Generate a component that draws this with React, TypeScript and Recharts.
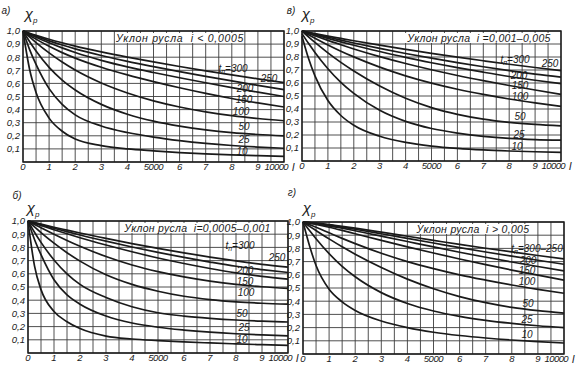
import React from 'react';
import { LineChart, Line, XAxis, YAxis, CartesianGrid, ReferenceArea } from 'recharts';

// ---- shared axes ----
const X_VALUES = [0, 250, 500, 1000, 1500, 2000, 3000, 4000, 5000, 6000, 7000, 8000, 9000, 10000];
const T_LEVELS = [300, 250, 200, 150, 100, 50, 25, 10];
const X_TICKS = [0, 500, 1000, 1500, 2000, 2500, 3000, 3500, 4000, 4500, 5000, 5500, 6000, 6500, 7000, 7500, 8000, 8500, 9000, 9500, 10000];
const Y_TICKS = [0, 0.1, 0.2, 0.3, 0.4, 0.5, 0.6, 0.7, 0.8, 0.9, 1.0];

// ---- panel а) i < 0,0005 ----
const A_300 = [1.0, 0.983, 0.967, 0.937, 0.91, 0.885, 0.841, 0.801, 0.764, 0.729, 0.696, 0.665, 0.635, 0.606];
const A_250 = [1.0, 0.98, 0.961, 0.925, 0.893, 0.864, 0.813, 0.768, 0.728, 0.69, 0.654, 0.619, 0.585, 0.553];
const A_200 = [1.0, 0.976, 0.953, 0.91, 0.871, 0.836, 0.776, 0.726, 0.683, 0.643, 0.605, 0.568, 0.533, 0.5];
const A_150 = [1.0, 0.968, 0.938, 0.883, 0.835, 0.793, 0.723, 0.665, 0.614, 0.567, 0.524, 0.485, 0.451, 0.42];
const A_100 = [1.0, 0.955, 0.912, 0.833, 0.763, 0.702, 0.603, 0.527, 0.467, 0.42, 0.383, 0.354, 0.332, 0.315];
const A_50 = [1.0, 0.92, 0.847, 0.722, 0.625, 0.55, 0.44, 0.365, 0.312, 0.274, 0.245, 0.224, 0.21, 0.2];
const A_25 = [1.0, 0.86, 0.745, 0.56, 0.44, 0.36, 0.275, 0.225, 0.19, 0.163, 0.142, 0.126, 0.114, 0.105];
const A_10 = [1.0, 0.71, 0.53, 0.335, 0.235, 0.175, 0.125, 0.1, 0.085, 0.072, 0.062, 0.054, 0.048, 0.043];

// ---- panel в) i = 0,001–0,005 ----
const V_300 = [1.0, 0.99, 0.98, 0.961, 0.943, 0.925, 0.891, 0.859, 0.828, 0.799, 0.771, 0.744, 0.719, 0.695];
const V_250 = [1.0, 0.988, 0.976, 0.953, 0.93, 0.908, 0.866, 0.827, 0.791, 0.757, 0.725, 0.695, 0.668, 0.645];
const V_200 = [1.0, 0.985, 0.971, 0.943, 0.916, 0.89, 0.842, 0.797, 0.756, 0.718, 0.683, 0.65, 0.621, 0.595];
const V_150 = [1.0, 0.981, 0.963, 0.928, 0.894, 0.862, 0.803, 0.75, 0.702, 0.658, 0.618, 0.581, 0.546, 0.513];
const V_100 = [1.0, 0.972, 0.945, 0.893, 0.845, 0.801, 0.722, 0.655, 0.599, 0.552, 0.512, 0.477, 0.447, 0.42];
const V_50 = [1.0, 0.955, 0.912, 0.832, 0.759, 0.693, 0.577, 0.483, 0.411, 0.359, 0.322, 0.297, 0.281, 0.27];
const V_25 = [0.98, 0.905, 0.835, 0.71, 0.605, 0.52, 0.39, 0.305, 0.25, 0.215, 0.19, 0.174, 0.165, 0.16];
const V_10 = [0.96, 0.79, 0.655, 0.465, 0.35, 0.275, 0.19, 0.143, 0.115, 0.097, 0.085, 0.077, 0.071, 0.067];

// ---- panel б) i = 0,0005–0,001 ----
const B_300 = [1.0, 0.988, 0.976, 0.953, 0.931, 0.909, 0.868, 0.829, 0.793, 0.759, 0.727, 0.698, 0.672, 0.65];
const B_250 = [1.0, 0.986, 0.972, 0.945, 0.919, 0.894, 0.847, 0.803, 0.762, 0.724, 0.689, 0.657, 0.632, 0.61];
const B_200 = [1.0, 0.983, 0.966, 0.934, 0.903, 0.873, 0.818, 0.767, 0.72, 0.678, 0.64, 0.607, 0.581, 0.56];
const B_150 = [1.0, 0.974, 0.949, 0.9, 0.853, 0.809, 0.731, 0.667, 0.617, 0.577, 0.545, 0.52, 0.502, 0.49];
const B_100 = [1.0, 0.955, 0.912, 0.832, 0.76, 0.696, 0.593, 0.52, 0.468, 0.43, 0.405, 0.388, 0.377, 0.37];
const B_50 = [1.0, 0.915, 0.838, 0.705, 0.6, 0.52, 0.42, 0.35, 0.305, 0.28, 0.263, 0.25, 0.241, 0.235];
const B_25 = [1.0, 0.86, 0.745, 0.555, 0.44, 0.37, 0.28, 0.227, 0.195, 0.174, 0.158, 0.146, 0.137, 0.13];
const B_10 = [1.0, 0.66, 0.48, 0.315, 0.237, 0.185, 0.128, 0.106, 0.094, 0.084, 0.076, 0.069, 0.063, 0.058];

// ---- panel г) i > 0,005 ----
const G_300 = [1.0, 0.996, 0.991, 0.98, 0.967, 0.953, 0.923, 0.892, 0.861, 0.83, 0.801, 0.773, 0.746, 0.72];
const G_250 = [1.0, 0.995, 0.989, 0.976, 0.961, 0.945, 0.911, 0.876, 0.841, 0.806, 0.773, 0.741, 0.71, 0.68];
const G_200 = [1.0, 0.994, 0.987, 0.971, 0.953, 0.934, 0.893, 0.852, 0.811, 0.771, 0.733, 0.697, 0.663, 0.63];
const G_150 = [1.0, 0.992, 0.982, 0.96, 0.936, 0.911, 0.861, 0.812, 0.765, 0.72, 0.677, 0.636, 0.597, 0.56];
const G_100 = [1.0, 0.98, 0.96, 0.918, 0.876, 0.836, 0.763, 0.7, 0.647, 0.6, 0.56, 0.523, 0.49, 0.46];
const G_50 = [1.0, 0.967, 0.935, 0.872, 0.812, 0.756, 0.655, 0.567, 0.494, 0.435, 0.389, 0.353, 0.328, 0.31];
const G_25 = [1.0, 0.935, 0.873, 0.76, 0.664, 0.585, 0.465, 0.383, 0.326, 0.285, 0.255, 0.232, 0.214, 0.2];
const G_10 = [1.0, 0.82, 0.67, 0.49, 0.395, 0.33, 0.25, 0.2, 0.165, 0.14, 0.121, 0.106, 0.094, 0.083];

const FONT = '"Liberation Sans", "DejaVu Sans", sans-serif';
const INK = '#1a1a1a';

const buildRows = (series: number[][]) =>
  X_VALUES.map((x, i) => {
    const row: Record<string, number> = { x };
    T_LEVELS.forEach((t, k) => {
      row['t' + t] = series[k][i];
    });
    return row;
  });

const fmtY = (v: number) => (v < 0.05 ? '' : v.toFixed(1).replace('.', ','));

const XTick = (props: any) => {
  const { x, y, payload } = props;
  const v = payload.value as number;
  let label = '';
  if (v === 0) label = '0';
  else if (v === 5000) label = '5000';
  else if (v === 10000) label = '10000';
  else if (v % 1000 === 0) label = String(v / 1000);
  if (!label) return <g />;
  const style = { fontSize: 9.5, fontStyle: 'italic' as const, fontFamily: FONT, fill: INK };
  if (v === 10000) {
    return (
      <g>
        <text x={x + 4} y={y} dy="0.72em" textAnchor="end" style={{ ...style, letterSpacing: -0.6 }}>
          {label}
        </text>
        <text x={x + 8} y={y} dy="0.72em" textAnchor="start" style={{ ...style, fontSize: 11 }}>
          l
        </text>
      </g>
    );
  }
  return (
    <text x={x} y={y} dy="0.72em" textAnchor="middle" style={{ ...style, letterSpacing: v === 5000 ? -0.4 : 0 }}>
      {label}
    </text>
  );
};

type PanelProps = {
  left: number;
  top: number;
  width: number;
  height: number;
  mTop: number;
  mRight: number;
  yW: number;
  xH: number;
  series: number[][];
};

function Panel({ left, top, width, height, mTop, mRight, yW, xH, series }: PanelProps) {
  const rows = buildRows(series);
  return (
    <div style={{ position: 'absolute', left, top }}>
      <LineChart width={width} height={height} data={rows} margin={{ top: mTop, right: mRight, bottom: 0, left: 0 }}>
        <CartesianGrid stroke="#3c3c3c" strokeWidth={0.9} />
        <XAxis
          dataKey="x"
          type="number"
          domain={[0, 10000]}
          ticks={X_TICKS}
          interval={0}
          height={xH}
          tickLine={false}
          axisLine={false}
          tickSize={0}
          tickMargin={1}
          tick={<XTick />}
        />
        <YAxis
          type="number"
          domain={[0, 1]}
          ticks={Y_TICKS}
          interval={0}
          width={yW}
          tickLine={false}
          axisLine={false}
          tickSize={0}
          tickMargin={3}
          tickFormatter={fmtY}
          tick={{ fontSize: 9.5, fontStyle: 'italic', fontFamily: FONT, fill: INK }}
        />
        <ReferenceArea x1={0} x2={10000} y1={0} y2={1} fill="none" stroke={INK} strokeWidth={1.4} ifOverflow="visible" />
        {T_LEVELS.map((t) => (
          <Line
            key={t}
            dataKey={'t' + t}
            type="monotone"
            stroke={INK}
            strokeWidth={1.7}
            dot={false}
            isAnimationActive={false}
          />
        ))}
      </LineChart>
    </div>
  );
}

const txt = (extra: React.CSSProperties = {}): React.CSSProperties => ({
  position: 'absolute',
  fontFamily: FONT,
  fontStyle: 'italic',
  fontSize: 10,
  color: INK,
  lineHeight: 1,
  whiteSpace: 'nowrap',
  transform: 'translate(-50%, -50%)',
  ...extra,
});

function Lbl({ x, y, children, size = 10 }: { x: number; y: number; children: React.ReactNode; size?: number }) {
  return <div style={txt({ left: x, top: y, fontSize: size })}>{children}</div>;
}

function Chi({ x, y }: { x: number; y: number }) {
  return (
    <div style={txt({ left: x, top: y, fontSize: 15 })}>
      χ<span style={{ fontSize: 8, position: 'relative', top: 4 }}>р</span>
    </div>
  );
}

function TitleBox({ left, top, width, height, spacing = 0.3, children }: { left: number; top: number; width: number; height: number; spacing?: number; children: React.ReactNode }) {
  return (
    <div
      style={{
        position: 'absolute',
        left,
        top,
        width,
        height,
        background: '#fff',
        fontFamily: FONT,
        fontStyle: 'italic',
        fontSize: 10.5,
        color: INK,
        display: 'flex',
        alignItems: 'center',
        justifyContent: 'center',
        whiteSpace: 'nowrap',
        letterSpacing: spacing,
      }}
    >
      {children}
    </div>
  );
}

const Tn = ({ v }: { v: string }) => (
  <span>
    t<span style={{ fontSize: 7, position: 'relative', top: 2 }}>п</span>={v}
  </span>
);

export default function App() {
  return (
    <div style={{ position: 'absolute', left: 0, top: 0, width: 582, height: 365, background: '#fff', overflow: 'hidden' }}>
      <Panel left={0} top={0} width={300} height={182} mTop={31} mRight={16} yW={23} xH={20}
        series={[A_300, A_250, A_200, A_150, A_100, A_50, A_25, A_10]} />
      <Panel left={280} top={0} width={302} height={182} mTop={31} mRight={21} yW={22} xH={21}
        series={[V_300, V_250, V_200, V_150, V_100, V_50, V_25, V_10]} />
      <Panel left={0} top={182} width={300} height={183} mTop={39} mRight={12} yW={28} xH={12}
        series={[B_300, B_250, B_200, B_150, B_100, B_50, B_25, B_10]} />
      <Panel left={281} top={182} width={301} height={183} mTop={40} mRight={18} yW={22} xH={11}
        series={[G_300, G_250, G_200, G_150, G_100, G_50, G_25, G_10]} />

      {/* panel а */}
      <Lbl x={6} y={11}>а)</Lbl>
      <Chi x={31} y={13} />
      <TitleBox left={116} top={32.5} width={128} height={10.5} spacing={0.7}>Уклон русла&nbsp;&nbsp;i &lt; 0,0005</TitleBox>
      <Lbl x={233} y={69}><Tn v="300" /></Lbl>
      <Lbl x={269} y={79}>250</Lbl>
      <Lbl x={245} y={88.5}>200</Lbl>
      <Lbl x={244} y={99.5}>150</Lbl>
      <Lbl x={241} y={111.5}>100</Lbl>
      <Lbl x={244} y={127}>50</Lbl>
      <Lbl x={244} y={140}>25</Lbl>
      <Lbl x={242} y={152}>10</Lbl>

      {/* panel в */}
      <Lbl x={291} y={11}>в)</Lbl>
      <Chi x={308} y={13} />
      <TitleBox left={405} top={32.5} width={148} height={10.5}>Уклон русла&nbsp;&nbsp;i =0,001–0,005</TitleBox>
      <Lbl x={515} y={60}><Tn v="300" /></Lbl>
      <Lbl x={550} y={64}>250</Lbl>
      <Lbl x={519} y={75.5}>200</Lbl>
      <Lbl x={520} y={86}>150</Lbl>
      <Lbl x={520} y={97}>100</Lbl>
      <Lbl x={520} y={117}>50</Lbl>
      <Lbl x={519} y={135}>25</Lbl>
      <Lbl x={517} y={147}>10</Lbl>

      {/* panel б */}
      <Lbl x={17} y={196}>б)</Lbl>
      <Chi x={33} y={207} />
      <TitleBox left={127} top={222.5} width={141} height={10.5}>Уклон русла&nbsp;&nbsp;i=0,0005–0,001</TitleBox>
      <Lbl x={240} y={246}><Tn v="300" /></Lbl>
      <Lbl x={277} y={258}>250</Lbl>
      <Lbl x={245} y={270.5}>200</Lbl>
      <Lbl x={245} y={281.5}>150</Lbl>
      <Lbl x={246} y={293}>100</Lbl>
      <Lbl x={242} y={314}>50</Lbl>
      <Lbl x={244} y={328}>25</Lbl>
      <Lbl x={242} y={340}>10</Lbl>

      {/* panel г */}
      <Lbl x={292} y={193}>г)</Lbl>
      <Chi x={309} y={207} />
      <TitleBox left={420} top={223.5} width={106} height={10.5}>Уклон русла&nbsp;&nbsp;i &gt; 0,005</TitleBox>
      <Lbl x={537} y={249}><Tn v="300–250" /></Lbl>
      <Lbl x={528} y={260.5}>200</Lbl>
      <Lbl x={527} y={271}>150</Lbl>
      <Lbl x={527} y={282}>100</Lbl>
      <Lbl x={528} y={304}>50</Lbl>
      <Lbl x={527} y={320}>25</Lbl>
      <Lbl x={527} y={335}>10</Lbl>
    </div>
  );
}
